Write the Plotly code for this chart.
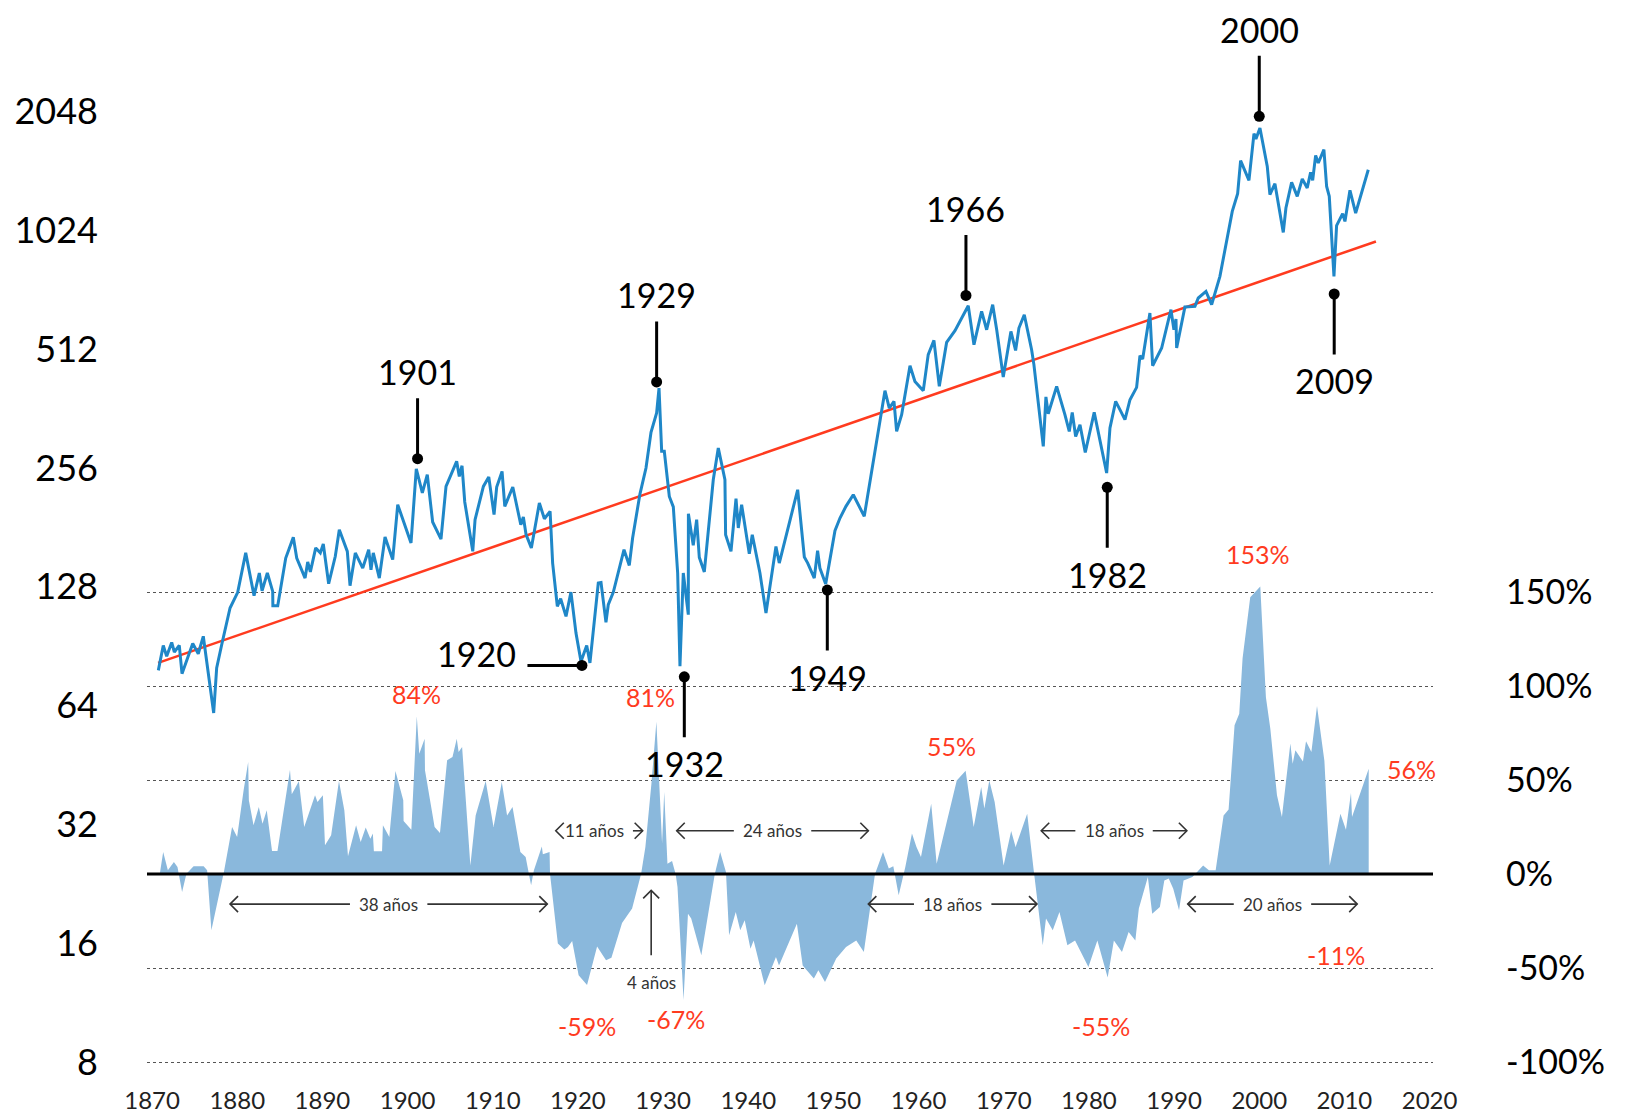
import math
import plotly.graph_objects as go

# ---------------------------------------------------------------------------
# Data
# ---------------------------------------------------------------------------
# Real stock index level (log scale, left axis)
line_years = [
    1870.73, 1871.31, 1871.71, 1872.30, 1872.61, 1873.19, 1873.51, 1874.77, 1875.42, 1876.01,
    1877.23, 1877.58, 1878.17, 1879.15, 1880.05, 1880.99, 1881.97, 1882.59, 1882.91, 1883.53,
    1884.16, 1884.18, 1884.75, 1885.69, 1886.58, 1886.98, 1887.96, 1888.27, 1888.58, 1889.21,
    1889.75, 1890.10, 1890.73, 1891.51, 1891.98, 1892.92, 1893.24, 1893.86, 1894.73, 1895.43,
    1895.70, 1895.97, 1896.68, 1897.35, 1898.25, 1898.84, 1900.40, 1901.02, 1901.73, 1902.31,
    1902.94, 1903.92, 1904.51, 1905.76, 1906.07, 1906.39, 1906.71, 1907.65, 1907.92, 1908.90,
    1909.53, 1910.15, 1910.46, 1911.09, 1911.41, 1912.35, 1913.29, 1913.59, 1913.91, 1914.53,
    1915.47, 1916.06, 1916.73, 1917.03, 1917.58, 1917.97, 1918.60, 1919.18, 1919.77, 1920.36,
    1921.03, 1921.41, 1922.39, 1922.71, 1923.29, 1923.56, 1924.15, 1924.94, 1925.41, 1926.03,
    1926.42, 1927.28, 1927.99, 1928.58, 1929.24, 1929.52, 1929.83, 1930.14, 1930.73, 1931.20,
    1931.71, 1931.98, 1932.37, 1932.96, 1932.97, 1933.54, 1933.94, 1934.25, 1934.84, 1935.89,
    1936.48, 1937.26, 1937.34, 1937.97, 1938.24, 1938.56, 1938.83, 1939.22, 1940.12, 1940.47,
    1941.37, 1942.08, 1943.25, 1943.64, 1945.80, 1946.58, 1946.98, 1947.75, 1948.14, 1948.41,
    1949.09, 1950.18, 1950.77, 1951.47, 1952.33, 1953.62, 1956.05, 1956.56, 1957.11, 1957.42,
    1958.01, 1958.99, 1959.57, 1960.55, 1961.13, 1961.80, 1962.43, 1963.29, 1964.27, 1965.83,
    1966.50, 1967.40, 1967.99, 1968.70, 1969.17, 1969.94, 1970.84, 1971.39, 1971.78, 1972.41,
    1973.27, 1973.54, 1974.64, 1974.95, 1975.22, 1976.21, 1977.18, 1977.69, 1978.04, 1978.44,
    1978.95, 1979.57, 1980.62, 1982.08, 1982.47, 1983.14, 1983.64, 1984.23, 1984.82, 1985.60,
    1985.99, 1986.31, 1987.16, 1987.48, 1988.54, 1989.63, 1989.98, 1990.22, 1990.30, 1991.27,
    1992.45, 1992.84, 1993.74, 1994.41, 1995.38, 1996.83, 1997.46, 1997.81, 1998.79, 1999.38,
    1999.61, 2000.08, 2000.94, 2001.25, 2001.84, 2002.82, 2003.13, 2003.80, 2004.46, 2005.05,
    2005.63, 2006.03, 2006.27, 2006.62, 2006.93, 2007.59, 2007.91, 2008.22, 2008.77, 2009.08,
    2009.79, 2010.06, 2010.65, 2011.32, 2012.80,
]
line_values = [
    78.6, 90.9, 85.3, 92.5, 87.5, 90.9, 77.1, 92.0, 86.6, 95.9,
    61.3, 79.7, 91.3, 113.1, 123.9, 156.0, 121.5, 138.7, 125.1, 138.7,
    124.6, 114.6, 114.6, 151.4, 170.8, 151.4, 134.7, 148.0, 139.6, 160.6,
    156.0, 164.3, 130.3, 152.9, 178.6, 157.4, 128.8, 156.0, 142.8, 158.9,
    141.4, 156.0, 134.7, 171.2, 150.0, 206.7, 165.3, 254.9, 221.3, 246.3,
    186.8, 169.1, 229.9, 266.1, 243.7, 259.4, 210.0, 157.4, 189.4, 229.9,
    242.9, 195.0, 229.1, 250.9, 204.7, 229.1, 183.9, 192.4, 173.5, 160.6,
    208.7, 190.4, 198.8, 147.0, 114.2, 119.4, 107.7, 124.1, 97.7, 82.8,
    90.9, 82.1, 130.8, 131.2, 104.0, 115.3, 123.9, 146.2, 158.9, 145.0,
    170.2, 219.9, 256.0, 315.2, 352.9, 408.2, 282.1, 282.1, 216.9, 204.0,
    138.7, 80.5, 138.7, 108.8, 196.1, 163.0, 189.4, 152.0, 139.6, 239.0,
    287.6, 239.0, 173.5, 157.4, 182.0, 214.0, 180.4, 206.7, 155.3, 173.5,
    138.7, 109.8, 162.0, 147.0, 225.5, 152.3, 147.0, 134.7, 158.0, 142.8,
    130.1, 177.5, 191.2, 204.7, 219.0, 193.1, 402.0, 363.2, 377.6, 316.9,
    349.5, 464.9, 424.3, 402.0, 496.0, 539.0, 412.2, 532.6, 570.4, 660.0,
    525.6, 638.4, 573.6, 664.0, 573.6, 435.3, 568.0, 508.4, 579.3, 626.0,
    510.5, 467.9, 290.4, 387.5, 351.4, 412.2, 349.5, 316.9, 354.1, 307.8,
    329.6, 280.3, 354.1, 248.6, 323.3, 377.6, 359.8, 339.4, 381.3, 409.8,
    492.9, 483.6, 632.5, 464.9, 515.5, 644.8, 573.6, 610.5, 515.5, 654.9,
    657.2, 690.2, 717.2, 664.0, 783.2, 1144, 1268, 1538, 1371, 1801,
    1745, 1861, 1488, 1262, 1345, 1012, 1167, 1355, 1249, 1383,
    1312, 1436, 1371, 1586, 1517, 1640, 1323, 1249, 783.2, 1053,
    1129, 1079, 1294, 1133, 1459,
]

# Long-run exponential trend (straight on the log axis)
trend_years = [1870.7, 2013.7]
trend_values = [82.1, 960.0]

# Deviation of the index from its trend, in percent (right axis)
dev_years = [
    1870.90, 1871.30, 1871.85, 1872.56, 1872.98, 1873.52, 1874.03, 1874.87, 1876.05, 1876.46,
    1876.96, 1878.43, 1879.39, 1879.98, 1880.74, 1881.28, 1881.36, 1881.91, 1882.53, 1882.96,
    1883.46, 1884.08, 1884.72, 1886.19, 1886.40, 1887.23, 1887.86, 1889.13, 1889.42, 1890.05,
    1890.30, 1891.02, 1891.94, 1892.57, 1893.00, 1893.95, 1894.49, 1895.08, 1895.63, 1895.92,
    1896.04, 1897.00, 1897.10, 1897.85, 1898.57, 1899.49, 1899.53, 1900.44, 1901.08, 1901.37,
    1902.00, 1902.04, 1903.17, 1903.80, 1904.64, 1905.27, 1905.77, 1905.99, 1906.40, 1907.37,
    1907.99, 1909.17, 1910.09, 1911.06, 1911.68, 1912.32, 1913.24, 1913.86, 1914.50, 1914.83,
    1915.76, 1915.88, 1916.67, 1916.72, 1917.64, 1918.40, 1918.82, 1919.32, 1920.08, 1921.07,
    1922.25, 1923.30, 1923.93, 1924.56, 1925.18, 1926.36, 1927.42, 1927.92, 1928.63, 1929.21,
    1929.88, 1930.13, 1930.51, 1931.05, 1931.47, 1931.69, 1932.40, 1932.92, 1933.30, 1934.49,
    1936.07, 1936.70, 1937.38, 1937.75, 1938.53, 1939.06, 1939.58, 1940.26, 1940.63, 1941.93,
    1943.25, 1943.61, 1945.71, 1946.39, 1947.70, 1948.23, 1949.01, 1950.33, 1951.48, 1952.68,
    1953.57, 1954.88, 1955.82, 1956.50, 1957.03, 1957.66, 1958.44, 1959.22, 1959.75, 1960.28,
    1961.48, 1962.12, 1964.48, 1965.52, 1966.47, 1967.35, 1967.72, 1968.30, 1968.93, 1969.98,
    1970.87, 1971.39, 1972.75, 1973.49, 1974.58, 1974.96, 1975.75, 1976.54, 1977.47, 1978.37,
    1979.94, 1980.99, 1982.20, 1982.93, 1983.88, 1984.66, 1985.45, 1985.86, 1986.92, 1987.43,
    1988.33, 1988.85, 1989.37, 1989.90, 1990.58, 1991.11, 1992.15, 1993.41, 1994.09, 1994.88,
    1995.81, 1996.40, 1997.10, 1997.65, 1998.04, 1998.94, 2000.12, 2000.78, 2001.30, 2002.08,
    2002.66, 2003.65, 2003.92, 2004.24, 2005.13, 2005.49, 2006.12, 2006.78, 2007.65, 2008.27,
    2009.53, 2010.18, 2010.77, 2010.89, 2011.76, 2012.85,
]
dev_pct = [
    0.0, 11.7, 2.0, 6.4, 3.7, -9.6, 0.2, 4.1, 4.1, 2.0,
    -29.9, 1.1, 25.0, 19.7, 44.5, 59.6, 39.2, 25.9, 35.6, 26.8,
    33.9, 12.2, 12.2, 55.5, 42.4, 49.3, 25.0, 41.9, 38.3, 41.9,
    15.3, 20.6, 49.5, 33.9, 9.4, 25.9, 17.0, 24.7, 18.8, 21.5,
    12.1, 12.1, 25.9, 19.7, 54.8, 39.2, 28.2, 23.6, 84, 64.0,
    72.0, 55.2, 25.0, 21.8, 60.5, 62.2, 72.0, 64.9, 67.6, 4.6,
    31.2, 49.5, 25.0, 48.9, 31.2, 35.6, 11.7, 9.0, -6.0, 2.0,
    14.7, 10.5, 11.7, 0.2, -37.0, -40.2, -38.8, -35.6, -53.9, -59,
    -38.5, -45.9, -44.5, -35.3, -26.1, -18.4, 0.2, 14.4, 48.1, 81,
    16.2, 43.6, 5.5, 6.9, 0.0, -6.9, -67, -21.1, -23.7, -43.2,
    0.0, 11.7, 1.1, -32.6, -20.2, -29.9, -24.6, -39.7, -35.3, -59.2,
    -44.1, -48.6, -26.4, -48.6, -55.6, -51.2, -57.4, -45.0, -38.8, -35.3,
    -41.5, 0.0, 11.7, 2.9, 4.1, -11.3, 3.7, 21.5, 14.4, 9.0,
    37.4, 5.5, 49.8, 55, 25.0, 46.3, 34.8, 49.8, 38.3, 4.6,
    22.9, 14.4, 32.1, 2.9, -37.9, -23.7, -29.9, -20.2, -37.9, -35.3,
    -49.5, -35.3, -55, -35.3, -41.5, -30.9, -35.3, -18.4, -1.6, -21.1,
    -17.6, -3.4, -2.4, -7.8, -19.3, -3.4, -1.6, 4.6, 2.0, 2.0,
    31.2, 34.3, 79.1, 85.3, 114.6, 147.3, 153, 94.1, 77.3, 41.9,
    30.3, 69.4, 58.7, 65.8, 59.9, 70.6, 64.9, 89.4, 60.1, 4.6,
    32.1, 23.6, 43.1, 30.3, 41.9, 56,
]

# Turning points marked with a pin
pin_labels = ["1901", "1920", "1929", "1932", "1949", "1966", "1982", "2000", "2009"]
pin_years = [1901.17, 1920.47, 1929.24, 1932.49, 1949.28, 1965.56, 1982.15, 2000.0, 2008.80]
pin_values = [270.3, 80.9, 422.9, 75.7, 125.6, 700.8, 228.7, 1992, 706.6]

# Duration of the phases above / below trend
span_labels = ["38 años", "11 años", "24 años", "18 años", "18 años", "20 años"]
span_start = [1879.15, 1917.4, 1931.6, 1954.1, 1974.4, 1991.6]
span_end = [1916.4, 1927.6, 1954.1, 1973.9, 1991.5, 2011.5]

# Peaks / troughs of the deviation that get a value label
peak_years = [1901.08, 1929.21, 1965.52, 2000.12, 2012.85, 1921.07, 1932.40, 1982.20]

left_ticks = [8, 16, 32, 64, 128, 256, 512, 1024, 2048]
right_ticks = [-100, -50, 0, 50, 100, 150]
x_ticks = list(range(1870, 2021, 10))

# ---------------------------------------------------------------------------
# Geometry and style
# ---------------------------------------------------------------------------
W, H = 1625, 1113
M_L, M_R, M_T, M_B = 147, 192, 20, 47
BOTTOM_PAD = 4  # px between the lowest gridline and the plot edge
X_RANGE = [1869.4, 2020.4]
PX_PER_DOUBLING = 118.8
PX_PER_PCT = 1.8797
PLOT_W = W - M_L - M_R
PLOT_H = H - M_T - M_B
PX_PER_YEAR = PLOT_W / (X_RANGE[1] - X_RANGE[0])

log_lo = math.log10(8) - BOTTOM_PAD / PX_PER_DOUBLING * math.log10(2)
LOG_RANGE = [log_lo, log_lo + PLOT_H / PX_PER_DOUBLING * math.log10(2)]
pct_lo = -100 - BOTTOM_PAD / PX_PER_PCT
PCT_RANGE = [pct_lo, pct_lo + PLOT_H / PX_PER_PCT]

FONT = "Lato, 'Open Sans', sans-serif"
BLUE = "#1f87c8"
AREA_BLUE = "#8ab8dc"
RED = "#ff3b1f"
DARK = "#333333"

fig = go.Figure()

# deviation area on the primary (linear, right-hand) axis
fig.add_trace(go.Scatter(
    x=dev_years, y=dev_pct, yaxis="y", mode="lines",
    fill="tozeroy", fillcolor=AREA_BLUE,
    line=dict(width=0, color=AREA_BLUE), hoverinfo="skip",
))
# trend and index on the overlaid log axis
fig.add_trace(go.Scatter(
    x=trend_years, y=trend_values, yaxis="y2", mode="lines",
    line=dict(color=RED, width=2.5), hoverinfo="skip",
))
fig.add_trace(go.Scatter(
    x=line_years, y=line_values, yaxis="y2", mode="lines",
    line=dict(color=BLUE, width=3), hoverinfo="skip",
))
fig.add_trace(go.Scatter(
    x=pin_years, y=pin_values, yaxis="y2", mode="markers",
    marker=dict(color="black", size=11), hoverinfo="skip",
))

annotations = []
shapes = []

# zero line of the deviation
shapes.append(dict(type="line", xref="paper", x0=0, x1=1, yref="y", y0=0, y1=0,
                   line=dict(color="black", width=3), layer="above"))

# pins: stem + year label
pin_layout = {
    "up": dict(ax=0, ay=-62, xshift=0, yshift=87, xanchor="center"),
    "down": dict(ax=0, ay=62, xshift=0, yshift=-87, xanchor="center"),
    "left": dict(ax=-56, ay=0, xshift=-64, yshift=12, xanchor="right"),
}
pin_side = {"1901": "up", "1920": "left", "1929": "up", "1932": "down", "1949": "down",
            "1966": "up", "1982": "down", "2000": "up", "2009": "down"}
for lab, yr, val in zip(pin_labels, pin_years, pin_values):
    st = pin_layout[pin_side[lab]]
    annotations.append(dict(
        x=yr, y=math.log10(val), xref="x", yref="y2", text="",
        showarrow=True, arrowhead=0, arrowwidth=3, arrowcolor="black",
        ax=st["ax"], ay=st["ay"], standoff=0,
    ))
    annotations.append(dict(
        x=yr, y=math.log10(val), xref="x", yref="y2", text=lab, showarrow=False,
        xshift=st["xshift"], yshift=st["yshift"], xanchor=st["xanchor"],
        font=dict(family=FONT, size=34, color="black"),
    ))

# value labels for the deviation extremes
peak_offsets = {
    1901.08: (0, 22, "center"), 1929.21: (-6, 25, "center"), 1965.52: (-14, 25, "center"),
    2000.12: (-2, 32, "center"), 2012.85: (16, 0, "left"), 1921.07: (0, -41, "center"),
    1932.40: (-8, -19, "center"), 1982.20: (-7, -49, "center"),
}
for yr in peak_years:
    v = dev_pct[dev_years.index(yr)]
    dx, dy, anchor = peak_offsets[yr]
    annotations.append(dict(
        x=yr, y=v, xref="x", yref="y", text=f"{v:g}%", showarrow=False,
        xshift=dx, yshift=dy, xanchor=anchor,
        font=dict(family=FONT, size=25, color=RED),
    ))
annotations.append(dict(
    x=2009.04, y=-43.2, xref="x", yref="y", text="-11%", showarrow=False,
    font=dict(family=FONT, size=25, color=RED),
))


def chevron(x, y, direction):
    paths = {
        "left": "M 8,8 L 0,0 L 8,-8",
        "right": "M -8,8 L 0,0 L -8,-8",
        "up": "M -8,-8 L 0,0 L 8,-8",
    }
    return dict(type="path", xref="x", yref="y", xsizemode="pixel", ysizemode="pixel",
                xanchor=x, yanchor=y, path=paths[direction],
                line=dict(color=DARK, width=1.6), layer="above")


# duration arrows
span_level = [-16, 23, 23, -16, 23, -16]
span_text_shift = [0, -5, 0, 0, 0, 0]
for lab, a, b, lvl, sh in zip(span_labels, span_start, span_end, span_level, span_text_shift):
    mid_px = (a + b) / 2 * PX_PER_YEAR + sh
    center = mid_px / PX_PER_YEAR
    half = (len(lab) * 8.2) / 2 + 10
    left_end = center - half / PX_PER_YEAR
    right_end = center + half / PX_PER_YEAR
    if left_end > a:
        shapes.append(dict(type="line", xref="x", yref="y", x0=a, x1=left_end, y0=lvl, y1=lvl,
                           line=dict(color=DARK, width=1.6), layer="above"))
    if right_end < b:
        shapes.append(dict(type="line", xref="x", yref="y", x0=right_end, x1=b, y0=lvl, y1=lvl,
                           line=dict(color=DARK, width=1.6), layer="above"))
    shapes.append(chevron(a, lvl, "left"))
    shapes.append(chevron(b, lvl, "right"))
    annotations.append(dict(
        x=center, y=lvl, xref="x", yref="y", text=lab, showarrow=False,
        font=dict(family=FONT, size=17, color=DARK),
    ))

# the short rebound after 1929
REBOUND_X = 1928.6
shapes.append(dict(type="line", xref="x", yref="y", x0=REBOUND_X, x1=REBOUND_X, y0=-43.2, y1=-8.7,
                   line=dict(color=DARK, width=1.6), layer="above"))
shapes.append(chevron(REBOUND_X, -8.7, "up"))
annotations.append(dict(
    x=REBOUND_X, y=-57.5, xref="x", yref="y", text="4 años", showarrow=False,
    font=dict(family=FONT, size=17, color=DARK),
))

fig.update_layout(
    width=W, height=H, autosize=False,
    margin=dict(l=M_L, r=M_R, t=M_T, b=M_B, pad=0),
    paper_bgcolor="white", plot_bgcolor="white",
    showlegend=False, hovermode=False,
    font=dict(family=FONT, color="black"),
    xaxis=dict(
        range=X_RANGE, tickvals=x_ticks, ticktext=[str(t) for t in x_ticks],
        showgrid=False, zeroline=False, showline=False, ticks="",
        tickfont=dict(family=FONT, size=24, color="#222"),
        ticklabelstandoff=18, automargin=False,
    ),
    yaxis=dict(
        range=PCT_RANGE, side="right", tickvals=right_ticks,
        ticktext=[f"{t}%" for t in right_ticks],
        showgrid=True, gridcolor="#555555", griddash="dot", gridwidth=1.2,
        zeroline=False, showline=False, ticks="",
        tickfont=dict(family=FONT, size=34, color="black"),
        ticklabelstandoff=72, automargin=False,
    ),
    yaxis2=dict(
        type="log", range=LOG_RANGE, overlaying="y", side="left",
        tickvals=left_ticks, ticktext=[str(t) for t in left_ticks],
        showgrid=False, zeroline=False, showline=False, ticks="",
        tickfont=dict(family=FONT, size=36, color="black"),
        ticklabelstandoff=48, automargin=False,
    ),
    shapes=shapes,
    annotations=annotations,
)

fig.write_html("out.html")
